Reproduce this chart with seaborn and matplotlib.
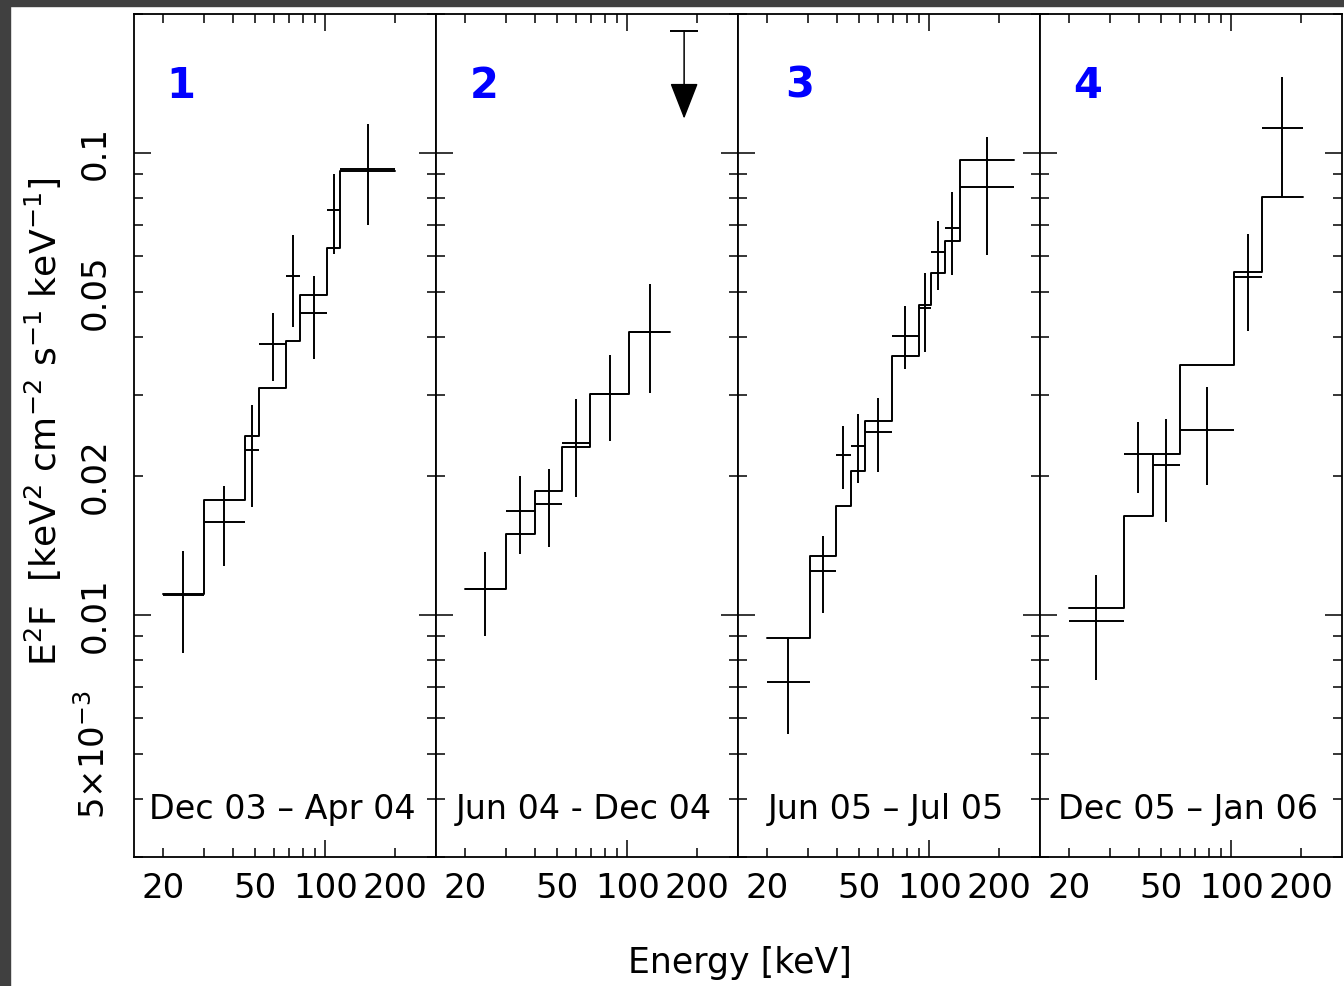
import numpy as np
import pandas as pd
import matplotlib
matplotlib.use("Agg")
import matplotlib.pyplot as plt
import matplotlib.ticker as mticker
from matplotlib.patches import Rectangle
import seaborn as sns

# ---------------- data ----------------
panel_ids = ["1", "2", "3", "4"]
panel_dates = ["Dec 03 \u2013 Apr 04", "Jun 04 - Dec 04", "Jun 05 \u2013 Jul 05", "Dec 05 \u2013 Jan 06"]

# panel 1
p1_edges = [20, 30, 45, 52, 68, 78, 102, 116, 200]
p1_flux = [0.01105, 0.01592, 0.0228, 0.0387, 0.0543, 0.0450, 0.0752, 0.0923]
p1_flux_lo = [0.00827, 0.01277, 0.01715, 0.0322, 0.0421, 0.0359, 0.0604, 0.0698]
p1_flux_hi = [0.01376, 0.01905, 0.02855, 0.0452, 0.0664, 0.0541, 0.0900, 0.1156]
p1_model = [0.0111, 0.01777, 0.02445, 0.03108, 0.0393, 0.04944, 0.06222, 0.0914]

# panel 2
p2_edges = [20, 30, 40, 52.5, 69, 102, 153]
p2_flux = [0.01139, 0.01681, 0.01741, 0.0236, 0.03016, 0.04111]
p2_flux_lo = [0.0090, 0.01356, 0.01405, 0.01803, 0.02384, 0.0302]
p2_flux_hi = [0.0137, 0.02001, 0.02074, 0.02941, 0.03664, 0.0520]
p2_model = [0.01139, 0.01498, 0.01858, 0.02314, 0.03016, 0.04111]
p2_ul_edges = [153, 202]
p2_ul_value = 0.184

# panel 3
p3_edges = [20, 30.5, 39.6, 46, 52.7, 69, 90, 102, 117, 135, 232]
p3_flux = [0.00719, 0.01245, 0.02224, 0.02326, 0.02494, 0.04029, 0.04634, 0.06099, 0.06876, 0.0844]
p3_flux_lo = [0.00555, 0.0101, 0.01877, 0.01933, 0.02042, 0.03417, 0.0372, 0.0505, 0.0546, 0.0601]
p3_flux_hi = [0.00896, 0.01483, 0.0257, 0.02729, 0.02956, 0.04658, 0.05493, 0.0712, 0.0823, 0.1083]
p3_model = [0.00891, 0.01343, 0.01723, 0.02053, 0.02635, 0.03646, 0.04682, 0.05492, 0.0644, 0.0966]

# panel 4
p4_edges = [20, 34.4, 46, 60, 103, 135, 204]
p4_flux = [0.0097, 0.02235, 0.02115, 0.02519, 0.05383, 0.1133]
p4_flux_lo = [0.00723, 0.01839, 0.01591, 0.01914, 0.0413, 0.0803]
p4_flux_hi = [0.01221, 0.02623, 0.02662, 0.03122, 0.0667, 0.1462]
p4_model = [0.01036, 0.0164, 0.02235, 0.03485, 0.05518, 0.0803]

x_label_values = [20, 50, 100, 200]
y_label_values = [0.005, 0.01, 0.02, 0.05, 0.1]
y_label_texts = ["$5{\\times}10^{-3}$", "0.01", "0.02", "0.05", "0.1"]

panels = [
    (p1_edges, p1_flux, p1_flux_lo, p1_flux_hi, p1_model),
    (p2_edges, p2_flux, p2_flux_lo, p2_flux_hi, p2_model),
    (p3_edges, p3_flux, p3_flux_lo, p3_flux_hi, p3_model),
    (p4_edges, p4_flux, p4_flux_lo, p4_flux_hi, p4_model),
]

# ---------------- style ----------------
sns.set_style("ticks")
plt.rcParams['font.family'] = ['DejaVu Sans']
plt.rcParams['mathtext.fontset'] = 'dejavusans'
plt.rcParams['axes.linewidth'] = 1.3
plt.rcParams['text.color'] = 'k'

W, H = 1344, 986
fig = plt.figure(figsize=(W / 100, H / 100), dpi=100)
fig.patch.set_facecolor('white')
fig.patches.append(Rectangle((0, 0), 10 / W, 1, transform=fig.transFigure,
                             color='#404040', zorder=-5))
fig.patches.append(Rectangle((0, 1 - 6 / H), 1, 6 / H, transform=fig.transFigure,
                             color='#404040', zorder=-5))

ax_left0, ax_w = 134, 302
ax_top, ax_bot = 14, 857
num_x = [0.156, 0.159, 0.205, 0.159]
LW = 1.4
FS = 24.5


def xfmt(v, pos):
    for t in x_label_values:
        if abs(v - t) / t < 1e-6:
            return f"{t:g}"
    return ""


def yfmt(v, pos):
    for t, s in zip(y_label_values, y_label_texts):
        if abs(v - t) / t < 1e-6:
            return s
    return ""


for i, (edges, flux, flo, fhi, model) in enumerate(panels):
    L = (ax_left0 + i * ax_w) / W
    ax = fig.add_axes([L, (H - ax_bot) / H, ax_w / W, (ax_bot - ax_top) / H])
    ax.set_xscale('log')
    ax.set_yscale('log')

    e = np.array(edges, dtype=float)
    f = np.array(flux)
    lo = e[:-1]
    hi = e[1:]
    mid = np.sqrt(lo * hi)

    df = pd.DataFrame({'E': e, 'F': list(model) + [model[-1]]})
    sns.lineplot(data=df, x='E', y='F', ax=ax, drawstyle='steps-post', color='k',
                 lw=LW, estimator=None, sort=False, legend=False)
    ax.errorbar(mid, f, xerr=[mid - lo, hi - mid],
                yerr=[f - np.array(flo), np.array(fhi) - f],
                fmt='none', ecolor='k', elinewidth=LW, capsize=0)

    if i == 1:
        ul_lo, ul_hi = p2_ul_edges
        ul_mid = np.sqrt(ul_lo * ul_hi)
        ax.errorbar([ul_mid], [p2_ul_value], xerr=[[ul_mid - ul_lo], [ul_hi - ul_mid]],
                    fmt='none', ecolor='k', elinewidth=LW, capsize=0)
        ax.annotate('', xy=(ul_mid, p2_ul_value / 1.55), xytext=(ul_mid, p2_ul_value),
                    arrowprops=dict(arrowstyle='-|>,head_length=1.15,head_width=0.45',
                                    color='k', lw=1.1, shrinkA=0, shrinkB=0,
                                    mutation_scale=20))

    ax.set_xlim(15, 300)
    ax.set_ylim(0.003, 0.2)
    ax.set_xlabel('')
    ax.set_ylabel('')

    ax.xaxis.set_major_locator(mticker.FixedLocator([100]))
    ax.xaxis.set_minor_locator(mticker.FixedLocator([20, 30, 40, 50, 60, 70, 80, 90, 200]))
    ax.xaxis.set_major_formatter(mticker.FuncFormatter(xfmt))
    ax.xaxis.set_minor_formatter(mticker.FuncFormatter(xfmt))

    ax.yaxis.set_major_locator(mticker.FixedLocator([0.01, 0.1]))
    ax.yaxis.set_minor_locator(mticker.FixedLocator(
        [0.003, 0.004, 0.005, 0.006, 0.007, 0.008, 0.009,
         0.02, 0.03, 0.04, 0.05, 0.06, 0.07, 0.08, 0.09, 0.2]))
    ax.yaxis.set_major_formatter(mticker.FuncFormatter(yfmt))
    ax.yaxis.set_minor_formatter(mticker.FuncFormatter(yfmt))

    ax.tick_params(which='both', direction='in', top=True, right=True,
                   width=1.1, labelsize=FS, colors='k')
    ax.tick_params(which='major', length=12)
    ax.tick_params(which='minor', length=6.5)
    ax.tick_params(axis='x', which='both', pad=11)
    ax.tick_params(axis='y', which='both', pad=16, labelrotation=90)
    if i > 0:
        ax.tick_params(axis='y', which='both', labelleft=False)
    else:
        for lab in ax.get_yticklabels(which='both'):
            lab.set_va('center')

    for sp in ax.spines.values():
        sp.set_linewidth(1.3)
        sp.set_color('k')

    ax.text(num_x[i], 0.915, panel_ids[i], transform=ax.transAxes, color='#0000ff',
            fontsize=30, fontweight='bold', ha='center', va='center')
    ax.text(0.49, 0.056, panel_dates[i], transform=ax.transAxes, color='k',
            fontsize=24, ha='center', va='center')

fig.text(43 / W, 1 - 422 / H,
         "E$^{2}$F  [keV$^{2}$ cm$^{-2}$ s$^{-1}$ keV$^{-1}$]",
         rotation=90, ha='center', va='center', fontsize=26, color='k')
fig.text(740 / W, 1 - 963 / H, "Energy [keV]", ha='center', va='center',
         fontsize=25, color='k')

fig.savefig("out.png", dpi=100, facecolor='white')
